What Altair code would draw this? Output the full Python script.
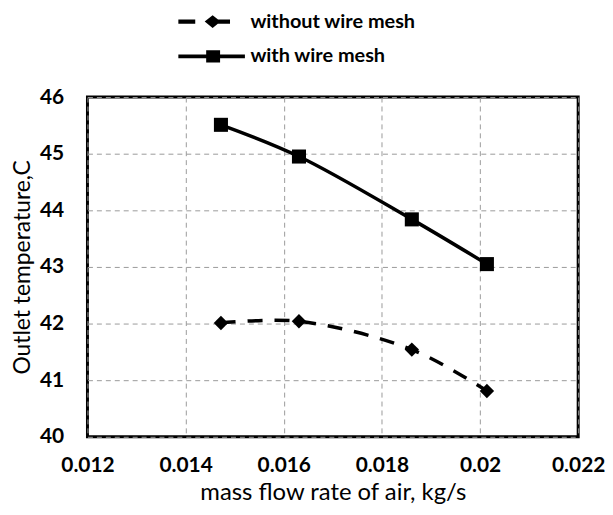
import altair as alt
import pandas as pd

series_names = ["without wire mesh", "with wire mesh"]
mass_flow = [0.01472, 0.01631, 0.01861, 0.02014]
temp_without = [42.01, 42.04, 41.54, 40.81]
temp_with = [45.51, 44.95, 43.84, 43.05]

x_ticks = [0.012, 0.014, 0.016, 0.018, 0.02, 0.022]
y_ticks = [40, 41, 42, 43, 44, 45, 46]

rows = []
for x, t in zip(mass_flow, temp_without):
    rows.append({"flow": x, "temp": t, "series": series_names[0]})
for x, t in zip(mass_flow, temp_with):
    rows.append({"flow": x, "temp": t, "series": series_names[1]})
df = pd.DataFrame(rows)

FONT = "Lato"

# legend symbols: line + marker drawn as custom paths (unit = 10px)
sym_without = ("M-3.35,-0.22L-1.65,-0.22L-1.65,0.22L-3.35,0.22Z "
               "M0.1,-0.22L1.85,-0.22L1.85,0.22L0.1,0.22Z "
               "M-0.7,0L0.1,-0.65L0.9,0L0.1,0.65Z")
sym_with = ("M-3.35,-0.18L3.35,-0.18L3.35,0.18L-3.35,0.18Z "
            "M-0.55,-0.62L0.85,-0.62L0.85,0.62L-0.55,0.62Z")

x_enc = alt.X("flow:Q", scale=alt.Scale(domain=[0.012, 0.022], nice=False, zero=False),
              axis=alt.Axis(values=x_ticks, format="~g", title="mass flow rate of air, kg/s",
                            labelPadding=18, titlePadding=5, labelFlush=False,
                            labelOverlap=False))
y_enc = alt.Y("temp:Q", scale=alt.Scale(domain=[40, 46], nice=False, zero=False),
              axis=alt.Axis(values=y_ticks, format="d", title="Outlet temperature,C",
                            labelPadding=24, titlePadding=5, labelFlush=False,
                            labelOverlap=False, titleFontSize=23))

base = alt.Chart(df)
with_df = base.transform_filter(alt.datum.series == series_names[1])
without_df = base.transform_filter(alt.datum.series == series_names[0])

line_with = with_df.mark_line(interpolate="catmull-rom", color="black", strokeWidth=3.5).encode(
    x=x_enc, y=y_enc)
line_without = without_df.mark_line(interpolate="catmull-rom", color="black", strokeWidth=3.5,
                                    strokeDash=[15, 12]).encode(x="flow:Q", y="temp:Q")

pts_with = with_df.mark_point(
    shape="square", filled=True, color="black", size=200, opacity=1
).encode(x="flow:Q", y="temp:Q")

pts_without = without_df.mark_point(
    shape="diamond", filled=True, color="black", size=210, opacity=1
).encode(x="flow:Q", y="temp:Q")

legend_layer = base.mark_point(filled=True, color="black", size=400, fillOpacity=0, strokeOpacity=0).encode(
    x="flow:Q", y="temp:Q",
    shape=alt.Shape("series:N",
                    scale=alt.Scale(domain=series_names, range=[sym_without, sym_with]),
                    legend=alt.Legend(title=None, orient="none", direction="vertical",
                                      legendX=115, legendY=-86,
                                      symbolSize=400, symbolOpacity=1,
                                      symbolFillColor="black", symbolStrokeWidth=0,
                                      labelOffset=29, rowPadding=15, padding=0,
                                      labelFont=FONT, labelFontSize=20,
                                      labelFontWeight="bold", labelColor="black",
                                      labelLimit=400)),
)

chart = alt.layer(line_with, line_without, pts_without, pts_with, legend_layer).properties(
    width=494, height=342,
    background="white",
    autosize=alt.AutoSizeParams(type="none"),
    padding={"left": 80, "top": 88, "right": 27, "bottom": 70},
).configure_view(
    stroke="black", strokeWidth=3
).configure_axis(
    grid=True, gridColor="#9a9a9a", gridDash=[5, 4], gridWidth=1,
    ticks=False, tickSize=0, domain=False,
    labelFont=FONT, labelFontSize=21, labelFontWeight="bold", labelColor="black",
    titleFont=FONT, titleFontSize=24, titleFontWeight="normal", titleColor="black",
)

chart.save("out.html", embed_options={"renderer": "svg", "actions": False})
